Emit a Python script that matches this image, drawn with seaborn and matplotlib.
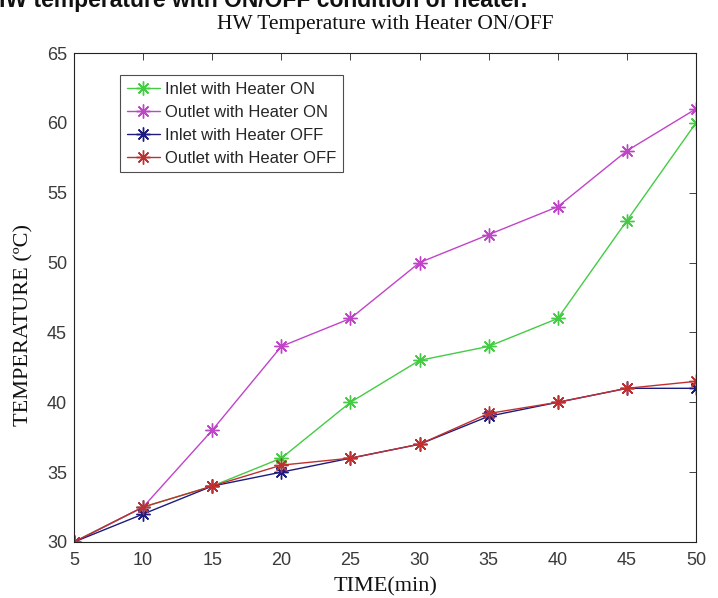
import matplotlib
matplotlib.use("Agg")
import matplotlib.pyplot as plt
import seaborn as sns
import pandas as pd

time_min = [5, 10, 15, 20, 25, 30, 35, 40, 45, 50]
inlet_on = [30, 32.5, 34, 36, 40, 43, 44, 46, 53, 60]
outlet_on = [30, 32.5, 38, 44, 46, 50, 52, 54, 58, 61]
inlet_off = [30, 32, 34, 35, 36, 37, 39, 40, 41, 41]
outlet_off = [30, 32.5, 34, 35.5, 36, 37, 39.2, 40, 41, 41.5]
series_names = ["Inlet with Heater ON", "Outlet with Heater ON",
                "Inlet with Heater OFF", "Outlet with Heater OFF"]
x_ticks = [5, 10, 15, 20, 25, 30, 35, 40, 45, 50]
y_ticks = [30, 35, 40, 45, 50, 55, 60, 65]

sns.set_style("white")
plt.rcParams['font.family'] = ['Liberation Sans', 'DejaVu Sans']

W, H = 718, 598
fig = plt.figure(figsize=(W / 100, H / 100), dpi=100)
ax = fig.add_axes([74/W, 1 - 542/H, (696-74)/W, (542-53)/H])

colors = ['#44cc44', '#c044c8', '#1c1c80', '#c03030']
star = (8, 2, 0)
for vals, name, c in zip([inlet_on, outlet_on, inlet_off, outlet_off], series_names, colors):
    df = pd.DataFrame({"t": time_min, "v": vals})
    sns.lineplot(data=df, x="t", y="v", ax=ax, color=c, linewidth=1.0,
                 marker=star, markersize=10, markeredgewidth=1.0,
                 markeredgecolor=c, label=name)

ax.set_xlim(5, 50)
ax.set_ylim(30, 65)
ax.set_xticks(x_ticks)
ax.set_yticks(y_ticks)
ax.tick_params(direction='in', length=5, width=0.6, top=True, right=True,
               labelsize=13, colors='#222222', labelcolor='#3a3a3a', pad=5)
ax.tick_params(axis='x', pad=7)
for sp in ax.spines.values():
    sp.set_linewidth(0.8)
    sp.set_color('#222222')

ax.set_xlabel("TIME(min)", family='Liberation Serif', fontsize=16, color='#111111', labelpad=6)
ax.set_ylabel("TEMPERATURE (ºC)", family='Liberation Serif', fontsize=16, color='#111111')
ax.yaxis.set_label_coords((33 - 74) / 622, 1 - (325 - 53) / 489)
ax.set_title("HW Temperature with Heater ON/OFF", family='Liberation Serif',
             fontsize=15.5, color='#111111', pad=17)

leg = ax.legend(loc='upper left', bbox_to_anchor=(46/622, 1 - 22/489), fontsize=12,
                frameon=True, fancybox=False, borderpad=0.4, labelspacing=0.48,
                handlelength=2.0, handletextpad=0.3, borderaxespad=0)
leg.get_frame().set_edgecolor('#222222')
leg.get_frame().set_linewidth(0.8)

fig.text(527/W, 1 - 7/H, "HW temperature with ON/OFF condition of heater.",
         fontsize=16.5, fontweight='bold', ha='right', va='baseline', color='#111111')

fig.savefig("out.png", dpi=100, facecolor='white')
